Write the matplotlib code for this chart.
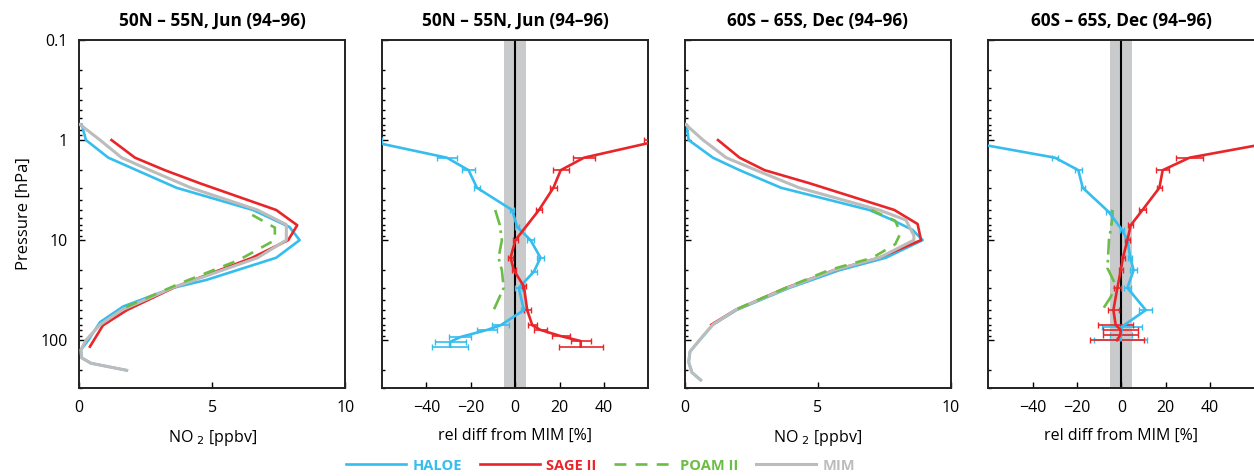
import numpy as np
import matplotlib
matplotlib.use("Agg")
import matplotlib.pyplot as plt
from matplotlib.ticker import LogLocator, FixedLocator, NullFormatter
from matplotlib.lines import Line2D

plt.rcParams['font.family'] = ['Open Sans', 'DejaVu Sans']

HALOE_C = '#35bdee'
SAGE_C = '#e8262a'
POAM_C = '#6cbd45'
MIM_C = '#bcbcbc'

titles = ['50N \u2013 55N, Jun (94\u201396)', '50N \u2013 55N, Jun (94\u201396)',
          '60S \u2013 65S, Dec (94\u201396)', '60S \u2013 65S, Dec (94\u201396)']

# --- 50N-55N, June: NO2 profiles [ppbv] ---
n_haloe_p = [0.7, 1, 1.5, 2, 3, 5, 7.4, 10, 15, 25, 30, 46, 66, 100, 125, 150, 170, 200]
n_haloe_x = [0.1, 0.26, 1.1, 2.16, 3.66, 6.53, 7.9, 8.28, 7.4, 4.78, 3.53, 1.66, 0.79, 0.35, 0.07, 0.1, 0.45, 1.79]
n_sage_p = [1, 1.5, 2, 2.7, 5, 7.1, 10, 15, 29, 50, 71, 116]
n_sage_x = [1.22, 2.1, 3.22, 4.53, 7.4, 8.19, 7.85, 6.5, 3.66, 1.8, 0.9, 0.41]
n_poam_p = [5.6, 7.5, 10, 15.8, 27, 50]
n_poam_x = [6.5, 7.35, 7.35, 6.0, 3.8, 1.5]
n_mim_p = [0.7, 1, 1.5, 2, 3, 5, 7, 10, 15, 30, 50, 70, 100, 125, 150, 170, 200]
n_mim_x = [0.04, 0.79, 1.6, 2.66, 4.2, 6.7, 7.78, 7.78, 6.7, 3.5, 1.6, 0.79, 0.26, 0.07, 0.1, 0.45, 1.79]

# --- 50N-55N, June: relative difference from MIM [%] ---
nd_haloe_p = [1, 1.5, 2, 3, 5, 7.4, 10, 15, 20.7, 30, 50, 71, 79, 93, 104, 116]
nd_haloe_x = [-68, -30.8, -21, -17.2, -1.4, 0.9, 6.9, 11.4, 8.4, 1.6, 3.9, -6.6, -12.7, -24.7, -29.3, -29.3]
nd_haloe_e = [8, 4.5, 3, 1.5, 1, 1, 1.5, 1.5, 1.5, 1.5, 1.5, 4, 4.5, 5, 7, 8]
nd_sage_p = [1, 1.5, 2, 3, 5, 10, 15, 20, 29, 50, 71, 79, 91, 102, 116]
nd_sage_x = [66, 31, 20.5, 17.2, 10.7, 0.1, -2.1, -0.6, 3.9, 5.4, 7.7, 11.4, 20.5, 29.5, 29.5]
nd_sage_e = [8, 5, 3.5, 1.5, 1.5, 1, 1, 1, 1, 1.5, 2, 3, 4, 4.5, 10]
nd_poam_p = [5, 7, 10, 15, 20, 30, 50]
nd_poam_x = [-9, -7, -6, -7.5, -6, -5.2, -9.7]

# --- 60S-65S, December: NO2 profiles [ppbv] ---
s_haloe_p = [0.7, 1, 1.5, 2, 3, 5, 6.3, 7.9, 10, 15, 20, 30, 50, 70, 100, 130, 165, 210, 250]
s_haloe_x = [0.06, 0.15, 1.06, 2.06, 3.62, 6.93, 7.8, 8.55, 8.93, 7.55, 5.8, 3.93, 1.94, 1.06, 0.56, 0.2, 0.15, 0.27, 0.6]
s_sage_p = [1, 1.5, 2, 2.7, 5, 6.9, 10, 15, 20, 30, 50, 70]
s_sage_x = [1.25, 2.06, 3.0, 4.68, 7.87, 8.74, 8.87, 7.3, 5.6, 3.8, 1.9, 1.0]
s_poam_p = [5, 6.4, 8.5, 11, 15, 20, 30, 50]
s_poam_x = [7.0, 7.9, 8.1, 7.9, 7.05, 5.4, 3.8, 1.87]
s_mim_p = [0.7, 1, 1.5, 2, 3, 5, 6.3, 9, 10, 15, 20, 30, 50, 70, 100, 130, 165, 210, 250]
s_mim_x = [0.04, 0.69, 1.56, 2.68, 4.3, 7.3, 8.3, 8.6, 8.6, 7.3, 5.6, 3.85, 1.9, 1.05, 0.55, 0.2, 0.15, 0.27, 0.6]

# --- 60S-65S, December: relative difference from MIM [%] ---
sd_haloe_p = [1, 1.5, 2, 3, 5.2, 7.9, 10, 15, 20, 30, 50, 73, 89, 100]
sd_haloe_x = [-74, -29.9, -19.4, -17.4, -5.8, 0.3, 2.7, 4, 5.5, 2.7, 11, 0.3, -0.3, -0.3]
sd_haloe_e = [6, 1.5, 1.5, 1, 1, 1, 1, 1, 1.5, 1.5, 3, 9, 5, 12]
sd_sage_p = [1, 1.5, 2, 3, 5, 7.1, 10, 15, 20, 30, 50, 70, 79, 89, 100]
sd_sage_x = [74, 30.7, 18.6, 17.1, 9.5, 4.2, 2.7, 0.7, -0.3, -1.8, -3.6, -2.6, -0.3, -0.5, -2]
sd_sage_e = [6, 6, 3, 1, 1.5, 1, 1, 1, 1, 1.5, 2.5, 8, 8, 8, 12]
sd_poam_p = [5, 6, 10, 15, 19, 28, 37, 50]
sd_poam_x = [-4, -4, -5.6, -6, -6.3, -2.6, -4.8, -8.6]

LW = 1.9
POAM_DASH = (0, (4.5, 3.5))

fig = plt.figure(figsize=(12.54, 4.76), dpi=100)
lefts = [0.063, 0.3046, 0.546, 0.788]
axes = [fig.add_axes([l, 0.185, 0.2125, 0.731]) for l in lefts]


def style_axis(ax, show_ylabels):
    ax.set_yscale('log')
    ax.set_ylim(300, 0.1)
    ax.yaxis.set_major_locator(FixedLocator([0.1, 1, 10, 100]))
    ax.yaxis.set_minor_locator(LogLocator(base=10, subs=np.arange(2, 10)))
    ax.yaxis.set_minor_formatter(NullFormatter())
    if show_ylabels:
        ax.set_yticklabels(['0.1', '1', '10', '100'])
    else:
        ax.set_yticklabels([])
    ax.tick_params(axis='both', which='both', direction='in', top=False, right=False,
                   labelsize=11.5, width=1.0)
    ax.tick_params(axis='y', which='major', length=4, pad=8)
    ax.tick_params(axis='y', which='minor', length=2.5)
    ax.tick_params(axis='x', which='major', length=4, pad=9)
    for s in ax.spines.values():
        s.set_linewidth(1.4)
        s.set_color('#222222')


def profile_panel(ax, hp, hx, sp, sx, pp, px, mp, mx):
    ax.plot(hx, hp, color=HALOE_C, lw=LW, zorder=2)
    ax.plot(sx, sp, color=SAGE_C, lw=LW, zorder=3)
    ax.plot(px, pp, color=POAM_C, lw=LW, ls=POAM_DASH, zorder=4)
    ax.plot(mx, mp, color=MIM_C, lw=LW + 0.3, zorder=3.5)
    ax.set_xlim(0, 10)
    ax.set_xticks([0, 5, 10])
    ax.set_xlabel('NO $_2$ [ppbv]', fontsize=11.5, labelpad=8)


def diff_panel(ax, hp, hx, he, sp, sx, se, pp, px):
    ax.axvspan(-5, 5, color='#c9cacc', lw=0, zorder=0)
    ax.axvline(0, color='black', lw=1.5, zorder=1)
    ax.errorbar(hx, hp, xerr=he, color=HALOE_C, lw=LW, elinewidth=1.2, capsize=2, capthick=1.0, zorder=3)
    ax.errorbar(sx, sp, xerr=se, color=SAGE_C, lw=LW, elinewidth=1.2, capsize=2, capthick=1.0, zorder=3)
    ax.plot(px, pp, color=POAM_C, lw=LW, ls=(0, (6, 2, 1, 2)), zorder=2)
    ax.set_xlim(-60, 60)
    ax.set_xticks([-40, -20, 0, 20, 40])
    ax.set_xticklabels(['\u221240', '\u221220', '0', '20', '40'])
    ax.set_xlabel('rel diff from MIM [%]', fontsize=11.5, labelpad=8)


profile_panel(axes[0], n_haloe_p, n_haloe_x, n_sage_p, n_sage_x, n_poam_p, n_poam_x, n_mim_p, n_mim_x)
diff_panel(axes[1], nd_haloe_p, nd_haloe_x, nd_haloe_e, nd_sage_p, nd_sage_x, nd_sage_e, nd_poam_p, nd_poam_x)
profile_panel(axes[2], s_haloe_p, s_haloe_x, s_sage_p, s_sage_x, s_poam_p, s_poam_x, s_mim_p, s_mim_x)
diff_panel(axes[3], sd_haloe_p, sd_haloe_x, sd_haloe_e, sd_sage_p, sd_sage_x, sd_sage_e, sd_poam_p, sd_poam_x)

for i, ax in enumerate(axes):
    style_axis(ax, i == 0)
    ax.set_title(titles[i], fontsize=12.4, fontweight='bold', pad=10)

axes[0].set_ylabel('Pressure [hPa]', fontsize=12, labelpad=6)

handles = [Line2D([], [], color=HALOE_C, lw=LW),
           Line2D([], [], color=SAGE_C, lw=LW),
           Line2D([], [], color=POAM_C, lw=LW, ls=POAM_DASH),
           Line2D([], [], color=MIM_C, lw=LW + 0.3)]
leg = fig.legend(handles, ['HALOE', 'SAGE II', 'POAM II', 'MIM'], loc='center',
                 bbox_to_anchor=(0.479, 0.022), ncol=4, frameon=False,
                 handlelength=4.1, handletextpad=0.45, columnspacing=1.2,
                 prop={'weight': 'bold', 'size': 10.5}, labelcolor='linecolor')

fig.savefig('out.png', dpi=100)
